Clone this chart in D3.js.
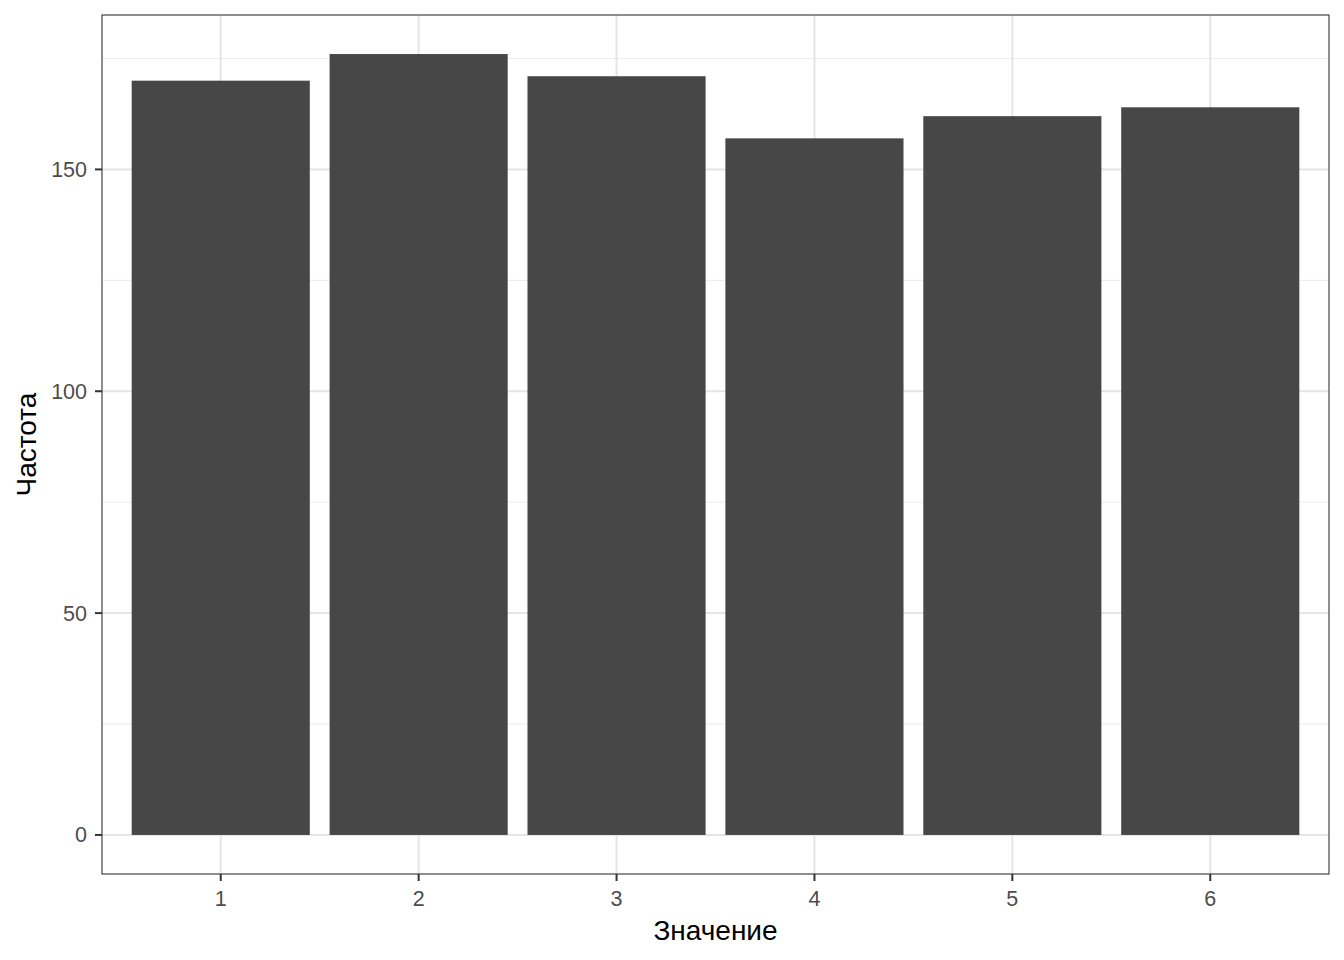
<!DOCTYPE html>
<html>
<head>
<meta charset="utf-8">
<script src="https://cdn.jsdelivr.net/npm/d3@7"></script>
<style>
  body { margin: 0; background: #fff; }
  svg text { font-family: "Liberation Sans", Arial, sans-serif; }
  .tick-label { font-size: 21.5px; fill: #4d4d4d; }
  .axis-title { font-size: 28px; fill: #000; }
</style>
</head>
<body>
<script>
// data
const categories = ["1", "2", "3", "4", "5", "6"];
const counts = [170, 176, 171, 157, 162, 164];
const yTicks = [0, 50, 100, 150];
const yMinor = [25, 75, 125, 175];

const width = 1344, height = 960;
const margin = { top: 15, right: 15, bottom: 86, left: 102 };
const iw = width - margin.left - margin.right;
const ih = height - margin.top - margin.bottom;

const svg = d3.select("body").append("svg")
  .attr("width", width).attr("height", height);

const g = svg.append("g").attr("transform", `translate(${margin.left},${margin.top})`);

// ggplot-like expansion
const yMax = d3.max(counts);
const y = d3.scaleLinear()
  .domain([-0.05 * yMax, yMax * 1.05])
  .range([ih, 0]);

const step = iw / (categories.length - 1 + 1.2);
const xPos = c => (categories.indexOf(c) + 0.6) * step;
const barW = step * 0.9;

// grid
g.selectAll(".minor").data(yMinor).enter().append("line")
  .attr("x1", 0).attr("x2", iw)
  .attr("y1", d => y(d)).attr("y2", d => y(d))
  .attr("stroke", "#ebebeb").attr("stroke-width", 1);
g.selectAll(".major").data(yTicks).enter().append("line")
  .attr("x1", 0).attr("x2", iw)
  .attr("y1", d => y(d)).attr("y2", d => y(d))
  .attr("stroke", "#e5e5e5").attr("stroke-width", 2);
g.selectAll(".vmajor").data(categories).enter().append("line")
  .attr("x1", d => xPos(d)).attr("x2", d => xPos(d))
  .attr("y1", 0).attr("y2", ih)
  .attr("stroke", "#e5e5e5").attr("stroke-width", 2);

// bars
g.selectAll("rect.bar").data(counts).enter().append("rect")
  .attr("class", "bar")
  .attr("x", (d, i) => xPos(categories[i]) - barW / 2)
  .attr("width", barW)
  .attr("y", d => y(d))
  .attr("height", d => y(0) - y(d))
  .attr("fill", "#474747");

// panel border
g.append("rect").attr("width", iw).attr("height", ih)
  .attr("fill", "none").attr("stroke", "#333333").attr("stroke-width", 1.1);

// y axis ticks and labels
g.selectAll(".ytick").data(yTicks).enter().append("line")
  .attr("x1", -7).attr("x2", 0)
  .attr("y1", d => y(d)).attr("y2", d => y(d))
  .attr("stroke", "#333333").attr("stroke-width", 2);
g.selectAll(".ylab").data(yTicks).enter().append("text")
  .attr("class", "tick-label")
  .attr("x", -15).attr("y", d => y(d))
  .attr("dy", "0.35em").attr("text-anchor", "end")
  .text(d => d);

// x axis ticks and labels
g.selectAll(".xtick").data(categories).enter().append("line")
  .attr("x1", d => xPos(d)).attr("x2", d => xPos(d))
  .attr("y1", ih).attr("y2", ih + 7)
  .attr("stroke", "#333333").attr("stroke-width", 2);
g.selectAll(".xlab").data(categories).enter().append("text")
  .attr("class", "tick-label")
  .attr("x", d => xPos(d)).attr("y", ih + 32)
  .attr("text-anchor", "middle")
  .text(d => d);

// axis titles
svg.append("text").attr("class", "axis-title")
  .attr("x", margin.left + iw / 2).attr("y", 940)
  .attr("text-anchor", "middle")
  .text("Значение");
svg.append("text").attr("class", "axis-title")
  .attr("transform", `translate(36,${margin.top + ih / 2}) rotate(-90)`)
  .attr("text-anchor", "middle")
  .text("Частота");
</script>
</body>
</html>
